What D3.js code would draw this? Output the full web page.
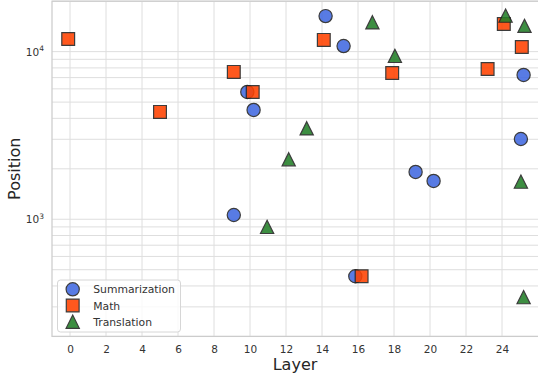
<!DOCTYPE html>
<html lang="en">
    <head>
        <meta charset="utf-8">
        <title>Layer vs Position</title>
        <script src="https://cdn.jsdelivr.net/npm/d3@7"></script>
        <style type="text/css">
            body { margin: 0; background: #fff; }
            text { font-family: "DejaVu Sans", sans-serif; }
        </style>
    </head>
    <body>
        <script type="text/javascript">

            //Width and height
            var w = 538;
            var h = 378;

            //Data (layer has a little jitter in it)
            var sumLayer   = [14.2, 15.2, 9.85, 10.2, 9.1, 19.2, 20.2, 15.85, 25.2, 25.05];
            var sumPos     = [16300, 10800, 5750, 4490, 1060, 1915, 1693, 457, 7260, 3013];

            var mathLayer  = [-0.1, 5.0, 9.1, 10.15, 14.1, 17.9, 16.2, 23.2, 24.1, 25.1];
            var mathPos    = [11900, 4370, 7570, 5750, 11750, 7460, 457, 7880, 14630, 10670];

            var transLayer = [16.8, 18.05, 13.15, 12.15, 10.95, 24.2, 25.25, 25.05, 25.2];
            var transPos   = [14970, 9430, 3490, 2280, 900, 16400, 14250, 1676, 343];

            var xTicks = [0, 2, 4, 6, 8, 10, 12, 14, 16, 18, 20, 22, 24];
            var yMajor = [1000, 10000];
            var yMinor = [200, 300, 400, 500, 600, 700, 800, 900,
                          2000, 3000, 4000, 5000, 6000, 7000, 8000, 9000, 20000];

            var series = [
                { name: "Summarization", xs: sumLayer,   ys: sumPos,   shape: "circle",   color: "#4169e1" },
                { name: "Math",          xs: mathLayer,  ys: mathPos,  shape: "square",   color: "#ff4200" },
                { name: "Translation",   xs: transLayer, ys: transPos, shape: "triangle", color: "#237f28" }
            ];

            //plot box (careful: "top" is taken by window.top)
            var pLeft = 52, pRight = 538, pTop = 1.2, pBottom = 336.4;

            var x = d3.scaleLinear().domain([-1, 26]).range([pLeft, pRight]);
            var y = d3.scaleLog().domain([200, 20000]).range([pBottom, pTop]);

            var svg = d3.select("body")
                        .append("svg")
                        .attr("width", w)
                        .attr("height", h);

            //grid, minor and major look the same here
            svg.selectAll("line.ygrid")
                .data(yMinor.concat(yMajor))
                .enter()
                .append("line")
                .attr("class", "ygrid")
                .attr("x1", pLeft).attr("x2", pRight)
                .attr("y1", function(d) { return y(d); })
                .attr("y2", function(d) { return y(d); })
                .attr("stroke", "#dedede")
                .attr("stroke-width", 1);

            svg.selectAll("line.xgrid")
                .data(xTicks)
                .enter()
                .append("line")
                .attr("class", "xgrid")
                .attr("x1", function(d) { return x(d); })
                .attr("x2", function(d) { return x(d); })
                .attr("y1", pTop).attr("y2", pBottom)
                .attr("stroke", "#dedede")
                .attr("stroke-width", 1);

            //spines
            svg.append("rect")
                .attr("x", pLeft).attr("y", pTop)
                .attr("width", pRight - pLeft + 2).attr("height", pBottom - pTop)
                .attr("fill", "none")
                .attr("stroke", "#cccccc")
                .attr("stroke-width", 1.25);

            //x axis, no tick marks
            var xAxis = svg.append("g")
                .attr("transform", "translate(0," + pBottom + ")")
                .call(d3.axisBottom(x).tickValues(xTicks).tickSize(0).tickPadding(9));
            xAxis.select(".domain").remove();
            xAxis.selectAll("text")
                .attr("font-size", 10.5)
                .attr("fill", "#333");

            //y axis labels with superscript exponent
            var yLab = svg.selectAll("text.ylab")
                .data(yMajor)
                .enter()
                .append("text")
                .attr("class", "ylab")
                .attr("x", 44)
                .attr("y", function(d) { return y(d) + 4; })
                .attr("text-anchor", "end")
                .attr("font-size", 10.5)
                .attr("fill", "#333");
            yLab.append("tspan").text("10");
            yLab.append("tspan")
                .attr("dy", -4.5)
                .attr("font-size", 7.5)
                .text(function(d) { return Math.round(Math.log10(d)); });

            svg.append("text")
                .text("Layer")
                .attr("x", (pLeft + pRight) / 2)
                .attr("y", 370)
                .attr("text-anchor", "middle")
                .attr("font-size", 16)
                .attr("fill", "#262626");

            svg.append("text")
                .text("Position")
                .attr("transform", "translate(20," + ((pTop + pBottom) / 2) + ") rotate(-90)")
                .attr("text-anchor", "middle")
                .attr("font-size", 16)
                .attr("fill", "#262626");

            //marker paths, sizes
            function markerPath(shape) {
                if (shape == "circle") {
                    var r = 6.6;
                    return "M" + r + ",0A" + r + "," + r + " 0 1,1 " + (-r) + ",0A" + r + "," + r + " 0 1,1 " + r + ",0Z";
                }
                if (shape == "square") {
                    var s = 6.4;
                    return "M" + (-s) + "," + (-s) + "H" + s + "V" + s + "H" + (-s) + "Z";
                }
                var t = 6.6;   //matplotlib "^": centre is middle of the box
                return "M0," + (-t) + "L" + t + "," + t + "H" + (-t) + "Z";
            }

            var plot = svg.append("g");
            series.forEach(function(s) {
                plot.selectAll("path." + s.shape)
                    .data(d3.range(s.xs.length))
                    .enter()
                    .append("path")
                    .attr("class", s.shape)
                    .attr("d", markerPath(s.shape))
                    .attr("transform", function(i) {
                        return "translate(" + x(s.xs[i]) + "," + y(s.ys[i]) + ")";
                    })
                    .attr("fill", s.color)
                    .attr("stroke", "#222")
                    .attr("stroke-width", 1.2)
                    .attr("opacity", 0.88);
            });

            //legend, lower left
            var lg = svg.append("g");
            lg.append("rect")
                .attr("x", 57.5).attr("y", 280)
                .attr("width", 123).attr("height", 52)
                .attr("rx", 3)
                .attr("fill", "white")
                .attr("fill-opacity", 0.8)
                .attr("stroke", "#d6d6d6")
                .attr("stroke-width", 1);

            var rows = lg.selectAll("g.row")
                .data(series)
                .enter()
                .append("g")
                .attr("class", "row")
                .attr("transform", function(d, i) { return "translate(72.7," + (289.3 + i * 16.2) + ")"; });
            rows.append("path")
                .attr("d", function(d) { return markerPath(d.shape); })
                .attr("fill", function(d) { return d.color; })
                .attr("stroke", "#222")
                .attr("stroke-width", 1.2)
                .attr("opacity", 0.88);
            rows.append("text")
                .text(function(d) { return d.name; })
                .attr("x", 20.5)
                .attr("y", 4)
                .attr("font-size", 10.8)
                .attr("fill", "#333");
        </script>
    </body>
</html>
